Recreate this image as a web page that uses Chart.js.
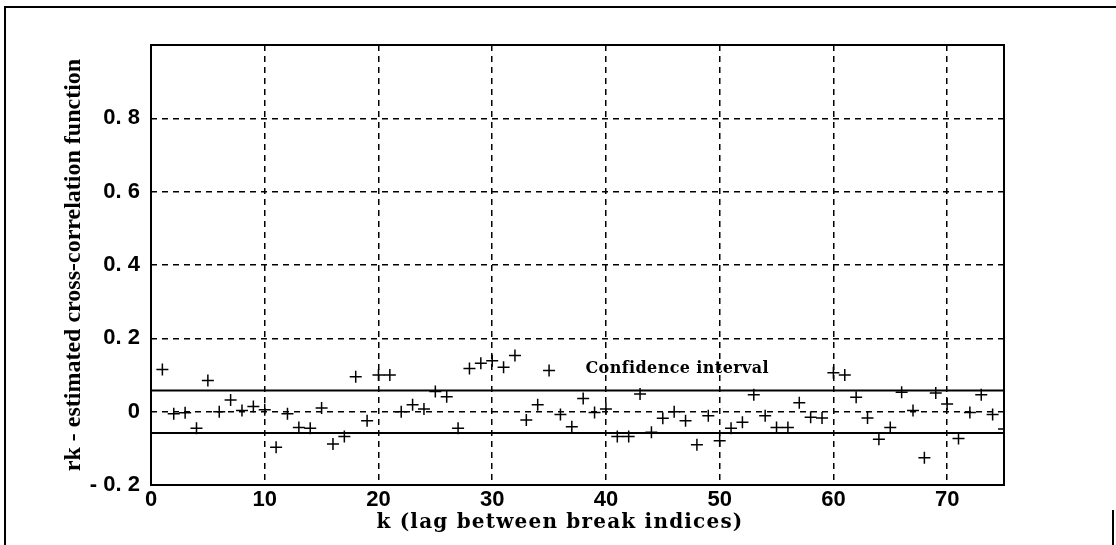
<!DOCTYPE html>
<html>
<head>
<meta charset="utf-8">
<script src="https://cdn.jsdelivr.net/npm/chart.js@4.4.1/dist/chart.umd.min.js"></script>
<style>
  html, body { margin: 0; padding: 0; background: #fff; }
  canvas { display: block; }
</style>
</head>
<body>
<canvas id="ccf" width="1116" height="545"></canvas>
<script>
// lag k
var lags = [
  1, 2, 3, 4, 5, 6, 7, 8, 9, 10, 11, 12, 13, 14, 15, 16, 17, 18, 19, 20,
  21, 22, 23, 24, 25, 26, 27, 28, 29, 30, 31, 32, 33, 34, 35, 36, 37, 38, 39, 40,
  41, 42, 43, 44, 45, 46, 47, 48, 49, 50, 51, 52, 53, 54, 55, 56, 57, 58, 59, 60,
  61, 62, 63, 64, 65, 66, 67, 68, 69, 70, 71, 72, 73, 74, 75
];
// rk - estimated cross-correlation
var rk = [
  0.115, -0.006, -0.003, -0.045, 0.085, 0.000, 0.032, 0.003, 0.014, 0.005,
  -0.097, -0.006, -0.043, -0.045, 0.010, -0.088, -0.068, 0.095, -0.025, 0.100,
  0.100, 0.000, 0.019, 0.007, 0.055, 0.041, -0.045, 0.118, 0.132, 0.139,
  0.121, 0.153, -0.023, 0.019, 0.112, -0.008, -0.041, 0.036, -0.002, 0.007,
  -0.068, -0.068, 0.048, -0.056, -0.018, 0.000, -0.025, -0.090, -0.011, -0.079,
  -0.045, -0.029, 0.046, -0.011, -0.043, -0.043, 0.024, -0.015, -0.017, 0.106,
  0.100, 0.039, -0.017, -0.075, -0.043, 0.053, 0.003, -0.126, 0.051, 0.021,
  -0.073, -0.002, 0.046, -0.008, -0.047
];
var confUpper = 0.058;
var confLower = -0.058;
var xRange = [0, 75];
var yRange = [-0.2, 1.0];
var xTicks = [0, 10, 20, 30, 40, 50, 60, 70];
var yTicks = [-0.2, 0, 0.2, 0.4, 0.6, 0.8];
var yTickLabels = ["- 0. 2", "0", "0. 2", "0. 4", "0. 6", "0. 8"];
var confLabel = "Confidence interval";
var confLabelAt = [38.2, 0.117];
var xTitle = "k (lag between break indices)";
var yTitle = "rk - estimated cross-correlation function";

var points = lags.map(function (k, i) { return { x: k, y: rk[i] }; });

// frame, plot border, x title and the confidence label
var extras = {
  id: "extras",
  beforeDraw: function (chart) {
    var ctx = chart.ctx;
    ctx.save();
    ctx.fillStyle = "#fff";
    ctx.fillRect(0, 0, chart.width, chart.height);
    ctx.strokeStyle = "#000";
    ctx.lineWidth = 2;
    ctx.beginPath();
    ctx.moveTo(5, 545);
    ctx.lineTo(5, 7);
    ctx.lineTo(1116, 7);
    ctx.moveTo(1113, 510);
    ctx.lineTo(1113, 545);
    ctx.stroke();
    ctx.restore();
  },
  afterDraw: function (chart) {
    var ctx = chart.ctx;
    var a = chart.chartArea;
    var sx = chart.scales.x, sy = chart.scales.y;
    ctx.save();
    ctx.strokeStyle = "#000";
    ctx.lineWidth = 2;
    ctx.strokeRect(a.left, a.top, a.right - a.left, a.bottom - a.top);
    ctx.fillStyle = "#000";
    ctx.font = "bold 20px 'DejaVu Serif'";
    ctx.letterSpacing = "1.2px";
    ctx.textAlign = "center";
    ctx.textBaseline = "middle";
    ctx.fillText(xTitle, 560, 523);
    ctx.font = "bold 16px 'DejaVu Serif'";
    ctx.letterSpacing = "0.4px";
    ctx.textAlign = "left";
    ctx.fillText(confLabel, sx.getPixelForValue(confLabelAt[0]), sy.getPixelForValue(confLabelAt[1]));
    ctx.restore();
  }
};

var edgeGrid = function (edge) {
  return function (c) { return c.tick && c.tick.value === edge ? "rgba(0,0,0,0)" : "#000"; };
};

new Chart(document.getElementById("ccf").getContext("2d"), {
  type: "scatter",
  data: {
    datasets: [
      {
        label: "rk",
        data: points,
        pointStyle: "cross",
        pointRadius: 6,
        borderColor: "#000",
        backgroundColor: "#000",
        borderWidth: 1.5,
      },
      {
        label: "upper",
        data: [{ x: xRange[0], y: confUpper }, { x: xRange[1], y: confUpper }],
        showLine: true,
        pointRadius: 0,
        borderColor: "#000",
        borderWidth: 2,
      },
      {
        label: "lower",
        data: [{ x: xRange[0], y: confLower }, { x: xRange[1], y: confLower }],
        showLine: true,
        pointRadius: 0,
        borderColor: "#000",
        borderWidth: 2,
      },
    ],
  },
  options: {
    responsive: false,
    animation: false,
    devicePixelRatio: 1,
    layout: { padding: { left: 56, top: 45, right: 112, bottom: 0 } },
    plugins: { legend: { display: false }, tooltip: { enabled: false } },
    scales: {
      x: {
        type: "linear",
        min: xRange[0],
        max: xRange[1],
        afterBuildTicks: function (s) { s.ticks = xTicks.map(function (v) { return { value: v }; }); },
        afterFit: function (s) { s.height = 60; },
        ticks: { color: "#000", padding: 2, maxRotation: 0, font: { family: "'Liberation Sans'", weight: "bold", size: 22 } },
        grid: { color: edgeGrid(0), lineWidth: 1.5, drawTicks: false },
        border: { display: false, dash: [6, 5] },
      },
      y: {
        type: "linear",
        min: yRange[0],
        max: yRange[1],
        afterBuildTicks: function (s) { s.ticks = yTicks.map(function (v) { return { value: v }; }); },
        afterFit: function (s) { s.width = 95; },
        ticks: {
          color: "#000",
          padding: 11,
          font: { family: "'Liberation Sans'", weight: "bold", size: 22 },
          callback: function (v, i) { return yTickLabels[i]; },
        },
        grid: { color: edgeGrid(-0.2), lineWidth: 1.5, drawTicks: false },
        border: { display: false, dash: [6, 5] },
        title: {
          display: true,
          text: yTitle,
          color: "#000",
          padding: { top: 3, bottom: 4 },
          font: { family: "'Liberation Serif'", weight: "bold", size: 24 },
        },
      },
    },
  },
  plugins: [extras],
});
</script>
</body>
</html>
